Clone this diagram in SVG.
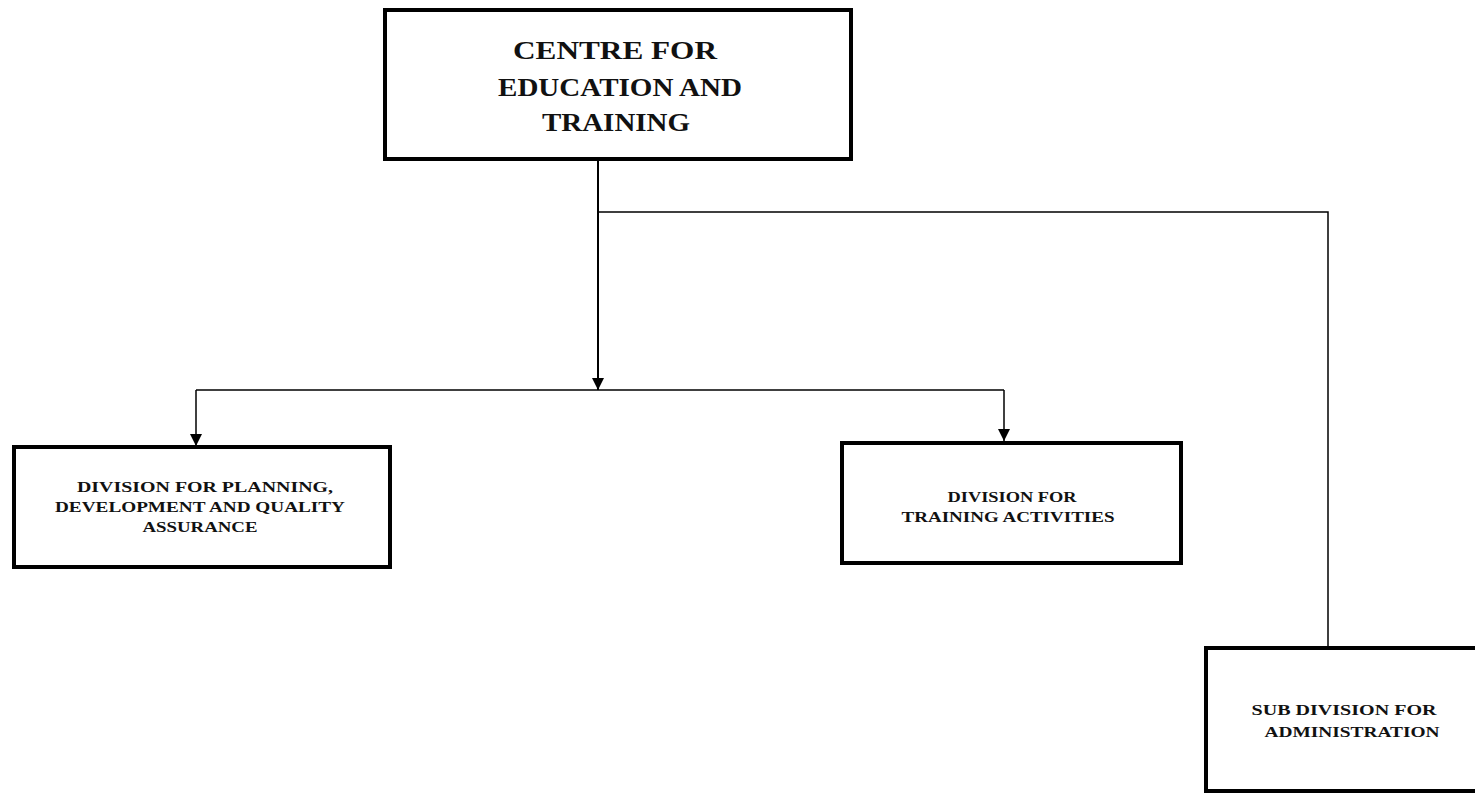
<svg xmlns="http://www.w3.org/2000/svg" width="1475" height="793" viewBox="0 0 1475 793">
<style>
.box{fill:#fff;stroke:#000;stroke-width:4}
.t{font-family:"Liberation Serif","DejaVu Serif",serif;font-weight:bold;fill:#111;text-anchor:middle}
.big{font-size:26px}
.sm{font-size:14.5px}
.ln{fill:none;stroke:#000}
</style>
<defs>
<marker id="ah" viewBox="0 0 10 10" refX="10" refY="5" markerWidth="12" markerHeight="12" markerUnits="userSpaceOnUse" orient="auto">
<path d="M0,0 L10,5 L0,10 Z" fill="#000"/>
</marker>
</defs>
<rect width="1475" height="793" fill="#fff"/>
<g id="connectors">
<path class="ln" stroke-width="1.5" d="M598,212 H1328 V647"/>
<path class="ln" stroke-width="2" d="M598,160 V390" marker-end="url(#ah)"/>
<path class="ln" stroke-width="1.5" d="M196,390 H1004"/>
<path class="ln" stroke-width="1.5" d="M196,390 V446" marker-end="url(#ah)"/>
<path class="ln" stroke-width="1.5" d="M1004,390 V441" marker-end="url(#ah)"/>
</g>
<g id="centre">
<rect class="box" x="385" y="10" width="466" height="149"/>
<text class="t big" x="615" y="59" textLength="204" lengthAdjust="spacingAndGlyphs">CENTRE FOR</text>
<text class="t big" x="620" y="96" textLength="244" lengthAdjust="spacingAndGlyphs">EDUCATION AND</text>
<text class="t big" x="616" y="131" textLength="148" lengthAdjust="spacingAndGlyphs">TRAINING</text>
</g>
<g id="planning">
<rect class="box" x="14" y="447" width="376" height="120"/>
<text class="t sm" x="205" y="492" textLength="256" lengthAdjust="spacingAndGlyphs">DIVISION FOR PLANNING,</text>
<text class="t sm" x="200" y="512" textLength="290" lengthAdjust="spacingAndGlyphs">DEVELOPMENT AND QUALITY</text>
<text class="t sm" x="200" y="532" textLength="115" lengthAdjust="spacingAndGlyphs">ASSURANCE</text>
</g>
<g id="training">
<rect class="box" x="842" y="443" width="339" height="120"/>
<text class="t sm" x="1012" y="502" textLength="129" lengthAdjust="spacingAndGlyphs">DIVISION FOR</text>
<text class="t sm" x="1008" y="522" textLength="213" lengthAdjust="spacingAndGlyphs">TRAINING ACTIVITIES</text>
</g>
<g id="admin">
<rect class="box" x="1206" y="648" width="300" height="143"/>
<text class="t sm" x="1344" y="715" textLength="185" lengthAdjust="spacingAndGlyphs">SUB DIVISION FOR</text>
<text class="t sm" x="1352" y="737" textLength="175" lengthAdjust="spacingAndGlyphs">ADMINISTRATION</text>
</g>
</svg>
